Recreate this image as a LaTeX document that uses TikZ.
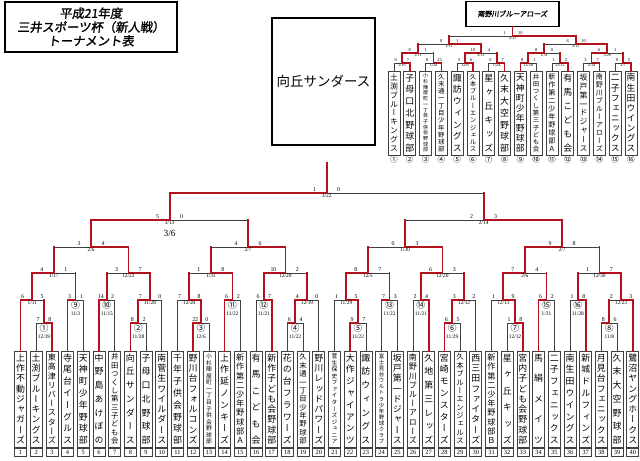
\documentclass[tikz,border=0pt]{standalone}
\usepackage{fontspec}
\usetikzlibrary{calc,positioning}
\setmainfont{Liberation Serif}
\newfontfamily\jpfont{Noto Sans CJK JP}
\newfontfamily\jptitle[FakeBold=1.5,FakeSlant=0.12]{Noto Sans CJK JP}
\newfontfamily\tatefont[RawFeature=+vert]{Noto Sans CJK JP}
\definecolor{bracketRed}{HTML}{B3121C}
\definecolor{bracketGray}{HTML}{404040}
% vertical team names
\newcount\tatecnt
\newdimen\tatesize
\def\tatecount#1{\ifx\relax#1\else\advance\tatecnt by 1\relax\expandafter\tatecount\fi}
\def\tatestep#1{\ifx\relax#1\else
  \tatesep\hbox to\tatesize{\hss\vrule height.88\tatesize depth.12\tatesize width0pt\relax#1\hss}%
  \def\tatesep{\vfill}\expandafter\tatestep\fi}
\newcommand\tate[2]{%
  \edef\tatetmp{#2}\tatecnt=0 \expandafter\tatecount\tatetmp\relax
  \pgfmathsetlength\tatesize{min(7.6pt,0.9*#1/\the\tatecnt)}%
  \vbox to #1{\offinterlineskip\tatefont\fontsize{\the\tatesize}{\the\tatesize}\selectfont
    \let\tatesep\relax\expandafter\tatestep\tatetmp\relax}}
\newcommand\cnum[1]{{\jpfont\fontsize{7.5}{8}\selectfont#1}}
\tikzset{
  team/.style={draw=bracketGray, line width=0.6pt, fill=white,
    inner xsep=0.5pt, inner ysep=1.5pt, minimum width=0.36cm},
  numbox/.style={draw=bracketGray, line width=0.6pt, minimum width=0.36cm,
    minimum height=0.24cm, inner sep=0pt, font=\fontsize{5.5}{6}\selectfont},
  win/.style={draw=bracketRed, line width=1.5pt, line cap=rect},
  lose/.style={draw=bracketGray, line width=0.6pt},
  score/.style={anchor=south, inner sep=0.3pt, yshift=0.7pt,
    font=\fontsize{5}{5}\selectfont},
  date/.style={anchor=north, inner sep=0.3pt, yshift=-0.7pt, align=center,
    font=\fontsize{4.6}{5.4}\selectfont},
  scoreTop/.style={anchor=south, inner sep=0.2pt, yshift=0.5pt,
    font=\fontsize{3.8}{4}\selectfont},
  dateTop/.style={anchor=north, inner sep=0.2pt, yshift=-0.5pt,
    font=\fontsize{3.6}{4}\selectfont},
  titlebox/.style={draw=black, line width=1pt, minimum width=5.16cm,
    minimum height=1.5cm, align=center, inner sep=1pt,
    font=\jptitle\fontsize{10.5}{11.8}\selectfont},
  champbox/.style={draw=black, line width=1.2pt, minimum width=3.09cm,
    minimum height=3.81cm, font=\jpfont\fontsize{11.5}{12}\selectfont},
  topbox/.style={draw=black, line width=1.2pt, minimum width=2.79cm,
    minimum height=0.75cm, font=\jptitle\fontsize{6}{7}\selectfont}
}
\begin{document}
\begin{tikzpicture}[x=0.03cm,y=-0.03cm]
  \useasboundingbox (0,0) rectangle (640,461);
  \node[titlebox] (title) at (91,27) {平成21年度\\三井スポーツ杯（新人戦）\\トーナメント表};
  \node[champbox] (champ) at (323.5,81.5) {向丘サンダース};
  % lower bracket teams
  \foreach \i/\nm in {1/上作不動ジャガーズ,2/土渕ブルーキングス,3/東高津リバースターズ,
    4/寺尾台イーグルス,5/天神町少年野球部,6/中野島あけぼの,7/井田つくし第三子ども会,
    8/向丘サンダース,9/子母口北野球部,10/南菅生ワイルダース,11/千年子供会野球部,
    12/野川台フォルコンズ,13/小杉陣屋町一丁目子供会野球部,14/上作延ノンキーズ,
    15/新作第二少年野球部Ａ,16/有馬こども会,17/新作子ども会野球部,18/花の台フラワーズ,
    19/久末通一丁目少年野球部,20/野川レッドパワーズ,21/菅生保史ファイターズジュニア,
    22/大作ジャイアンツ,23/諏訪ウィングス,24/富士見台ウルトラ少年野球クラブ,
    25/坂戸第一ドジャース,26/南野川ブルーアローズ,27/久地第三レッズ,28/宮崎モンスターズ,
    29/久本ブルーエンジェルス,30/西三田ファイターズ,31/新作第二少年野球部Ｂ,
    32/星ヶ丘キッズ,33/宮内子ども会野球部,34/馬絹メイツ,35/二子フェニックス,
    36/南生田ウイングス,37/新城ドルフィンズ,38/月見台フェニックス,39/久末大空野球部,
    40/鷺沼ヤングホークス}{
    \node[team, minimum height=2.88cm] (team\i) at ({20.5+(\i-1)*15.7},399)
      {\tate{77pt}{\nm}};
    \node[numbox, below=0.6pt of team\i] (no\i) {\i};
    \coordinate (t\i) at (team\i.north);
  }
  % upper bracket teams
  \foreach \i/\nm/\cn in {1/土渕ブルーキングス/①,2/子母口北野球部/②,
    3/小杉陣屋町一丁目子供会野球部/③,4/久末通一丁目少年野球部/④,5/諏訪ウィングス/⑤,
    6/久本ブルーエンジェルス/⑥,7/星ヶ丘キッズ/⑦,8/久末大空野球部/⑧,
    9/天神町少年野球部/⑨,10/井田つくし第三子ども会/⑩,11/新作第二少年野球部Ａ/⑪,
    12/有馬こども会/⑫,13/坂戸第一ドジャース/⑬,14/南野川ブルーアローズ/⑭,
    15/二子フェニックス/⑮,16/南生田ウイングス/⑯}{
    \node[team, minimum height=2.52cm] (uteam\i) at ({394+(\i-1)*15.8},113)
      {\tate{67pt}{\nm}};
    \node[below=0.4pt of uteam\i, inner sep=0pt, font=\jpfont\fontsize{6.5}{7}\selectfont]
      (uno\i) {\cn};
    \coordinate (u\i) at (uteam\i.north);
  }
  % lower bracket: match/left/right/height/left line/right line/winner/scores/date
  \foreach \m/\lc/\rc/\hy/\lv/\rv/\wc/\lsc/\rsc/\dt in {
    a1/t2/t3/323/lose/win/t3/7/8/{\cnum{①}\\12/19},
    a2/t1/a1/300/win/win/t1/6/5/{1/11},
    a3/t4/t5/300/win/lose/t4/3/1/{\cnum{⑨}\\11/3},
    a4/a2/a3/273/win/win/a2/4/1/{1/17},
    a5/t6/t7/300/win/lose/t6/14/2/{\cnum{⑩}\\11/15},
    a6/t8/t9/323/win/lose/t8/8/2/{\cnum{②}\\11/28},
    a7/a6/t10/300/win/lose/a6/7/0/{11/28},
    a8/a5/a7/273/win/win/a7/3/7/{12/22},
    a9/a4/a8/247/win/win/a8/3/4/{2/6},
    b1/t12/t13/323/win/lose/t12/22/0/{\cnum{③}\\12/6},
    b2/t11/b1/300/lose/win/b1/7/8/{12/20},
    b3/t14/t15/300/win/lose/t14/6/2/{\cnum{⑪}\\11/22},
    b4/b2/b3/273/win/win/b3/1/8/{1/31},
    b5/t16/t17/300/lose/win/t17/6/7/{\cnum{⑫}\\11/21},
    b6/t18/t19/323/win/lose/t18/6/4/{\cnum{④}\\11/22},
    b7/b6/t20/300/win/lose/b6/4/0/{12/19},
    b8/b5/b7/273/win/win/b5/10/2/{12/20},
    b9/b4/b8/247/win/win/b8/4/6/{2/7},
    s1/a9/b9/220/win/win/a9/5/0/{3/13},
    c1/t22/t23/323/win/lose/t22/9/7/{\cnum{⑤}\\11/22},
    c2/t21/c1/300/lose/win/c1/1/5/{11/29},
    c3/t24/t25/300/win/lose/t24/7/3/{\cnum{⑬}\\11/22},
    c4/c2/c3/273/win/win/c2/8/7/{12/5},
    c5/t26/t27/300/lose/win/t27/2/4/{\cnum{⑭}\\11/21},
    c6/t28/t29/323/win/lose/t28/6/5/{\cnum{⑥}\\11/29},
    c7/c6/t30/300/win/lose/c6/3/2/{12/12},
    c8/c5/c7/273/win/win/c5/6/3/{12/20},
    c9/c4/c8/247/win/win/c8/0/3/{1/30},
    d1/t32/t33/323/lose/win/t33/1/8/{\cnum{⑦}\\12/12},
    d2/t31/d1/300/lose/win/d1/1/9/{12/13},
    d3/t34/t35/300/win/lose/t34/6/2/{\cnum{⑮}\\1/31},
    d4/d2/d3/273/win/win/d2/7/4/{2/6},
    d5/t36/t37/300/lose/win/t37/1/8/{\cnum{⑯}\\11/28},
    d6/t38/t39/323/win/lose/t38/8/6/{\cnum{⑧}\\11/8},
    d7/d6/t40/300/win/win/t40/2/3/{12/23},
    d8/d5/d7/273/win/win/d7/1/7/{12/30},
    d9/d4/d8/247/win/win/d4/9/8/{2/7},
    s2/c9/d9/220/win/win/d9/2/3/{2/14},
    f/s1/s2/193/win/win/s1/1/0/{3/22}}{
    \path (\lc |- 0,\hy) -- (\rc |- 0,\hy) coordinate[midway] (\m);
    \draw[lose] (\lc |- 0,\hy) -- (\rc |- 0,\hy);
    \draw[\lv] (\lc) -- (\lc |- 0,\hy);
    \draw[\rv] (\rc) -- (\rc |- 0,\hy);
    \draw[win] (\wc) -- (\wc |- 0,\hy) -- (\m);
    \path let \p1=(\lc), \p2=(\rc), \n1={min(10.2,(\x2-\x1)/2-1.7)} in
      ($(\m)+(-\n1,0pt)$) node[score] {\lsc}
      ($(\m)+(\n1,0pt)$) node[score] {\rsc};
    \node[date] at (\m) {\dt};
  }
  \draw[win] (f) -- (f |- 0,163);
  \node[font=\fontsize{8}{8}\selectfont] (semidate) at ($(s1)+(0,13)$) {3/6};
  % upper bracket
  \foreach \m/\lc/\rc/\hy/\lv/\rv/\wc/\lsc/\rsc/\dt in {
    p1/u1/u2/63/lose/win/u2/0/7/{1/16},
    p2/u3/u4/63/lose/win/u4/0/25/{1/24},
    p3/u5/u6/63/lose/win/u6/3/6/{12/6},
    p4/u7/u8/63/lose/win/u8/6/7/{1/24},
    p5/u9/u10/63/win/lose/u9/8/1/{12/28},
    p6/u11/u12/63/lose/win/u12/1/2/{12/12},
    p7/u13/u14/63/lose/win/u14/3/7/{2/14},
    p8/u15/u16/63/lose/win/u16/0/5/{2/7},
    q1/p1/p2/53/win/win/p1/8/1/{1/11},
    q2/p3/p4/53/win/win/p3/10/4/{3/11},
    q3/p5/p6/53/win/win/p5/8/0/{1/31},
    q4/p7/p8/53/win/win/p7/6/1/{3/26},
    r1/q1/q2/44/win/win/q2/0/1/{1/11},
    r2/q3/q4/44/win/win/q4/6/10/{2/11},
    g/r1/r2/36/win/win/r2/1/10/{2/11}}{
    \path (\lc |- 0,\hy) -- (\rc |- 0,\hy) coordinate[midway] (\m);
    \draw[lose] (\lc |- 0,\hy) -- (\rc |- 0,\hy);
    \draw[\lv] (\lc) -- (\lc |- 0,\hy);
    \draw[\rv] (\rc) -- (\rc |- 0,\hy);
    \draw[win] (\wc) -- (\wc |- 0,\hy) -- (\m);
    \path let \p1=(\lc), \p2=(\rc), \n1={min(6.8,(\x2-\x1)/2-1.5)} in
      ($(\m)+(-\n1,0pt)$) node[scoreTop] {\lsc}
      ($(\m)+(\n1,0pt)$) node[scoreTop] {\rsc};
    \node[dateTop] at (\m) {\dt};
  }
  \node[topbox, anchor=south] (upwin) at ($(g)+(0,-9)$) {南野川ブルーアローズ};
  \draw[win] (g) -- (upwin.south);
\end{tikzpicture}
\end{document}
